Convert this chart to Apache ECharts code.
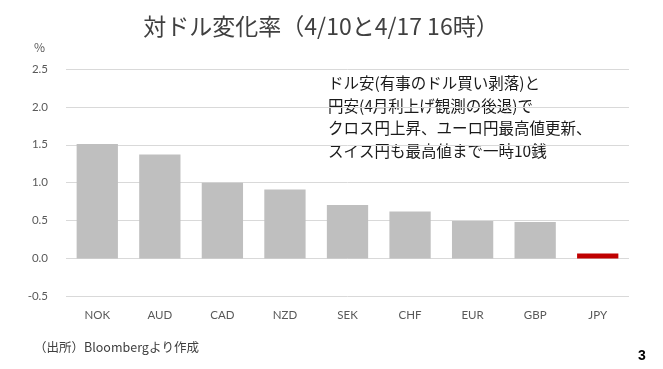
<!DOCTYPE html>
<html><head><meta charset="utf-8">
<script src="https://cdn.jsdelivr.net/npm/echarts@6/dist/echarts.min.js"></script>
<style>html,body{margin:0;padding:0;background:#fff}#c{width:663px;height:369px}</style>
</head><body><div id="c"></div>
<script>
const categories = ['NOK','AUD','CAD','NZD','SEK','CHF','EUR','GBP','JPY'];
const values = [1.51, 1.37, 1.00, 0.91, 0.705, 0.62, 0.495, 0.48, 0.065];
const barColors = ['#bfbfbf','#bfbfbf','#bfbfbf','#bfbfbf','#bfbfbf','#bfbfbf','#bfbfbf','#bfbfbf','#c00000'];
const titleText = '対ドル変化率（4/10と4/17 16時）';
const noteLines = ['ドル安(有事のドル買い剥落)と','円安(4月利上げ観測の後退)で','クロス円上昇、ユーロ円最高値更新、','スイス円も最高値まで一時10銭'];
const sourceText = '（出所）Bloombergより作成';
const unitText = '%';
const pageNo = '3';

const chart = echarts.init(document.getElementById('c'));
const jp = '"Noto Sans CJK JP", "Noto Sans", sans-serif';
chart.setOption({
  animation: false,
  backgroundColor: '#fff',
  grid: {left: 66, right: 34, top: 69, bottom: 72.7},
  xAxis: {
    type: 'category', data: categories,
    axisLine: {show: false}, axisTick: {show: false},
    axisLabel: {color: '#595959', fontSize: 11.5, fontFamily: 'Lato, sans-serif', margin: 13}
  },
  yAxis: {
    type: 'value', min: -0.5, max: 2.5, interval: 0.5,
    axisLine: {show: false}, axisTick: {show: false},
    splitLine: {lineStyle: {color: '#d9d9d9', width: 1}},
    axisLabel: {color: '#595959', fontSize: 11.5, fontFamily: 'Lato, sans-serif', margin: 18,
      formatter: v => v.toFixed(1)}
  },
  series: [{
    type: 'bar', barWidth: '66%',
    data: values.map((v, i) => ({value: v, itemStyle: {color: barColors[i]}}))
  }],
  graphic: [
    {type: 'text', x: 321, y: 26, style: {text: titleText, fontSize: 23, fill: '#404040', fontFamily: jp, align: 'center', verticalAlign: 'middle'}},
    {type: 'text', left: 34, top: 41, style: {text: unitText, fontSize: 12, fill: '#595959', fontFamily: jp}},
    {type: 'text', left: 328, top: 72, style: {text: noteLines.join('\n'), fontSize: 15.5, lineHeight: 22.5, fill: '#1a1a1a', fontFamily: jp}},
    {type: 'text', left: 34, top: 341, style: {text: sourceText, fontSize: 12.5, fill: '#404040', fontFamily: jp}},
    {type: 'text', left: 638, top: 349, style: {text: pageNo, fontSize: 14, fontWeight: 'bold', fill: '#000', fontFamily: 'Liberation Sans, sans-serif'}}
  ]
});
</script></body></html>
